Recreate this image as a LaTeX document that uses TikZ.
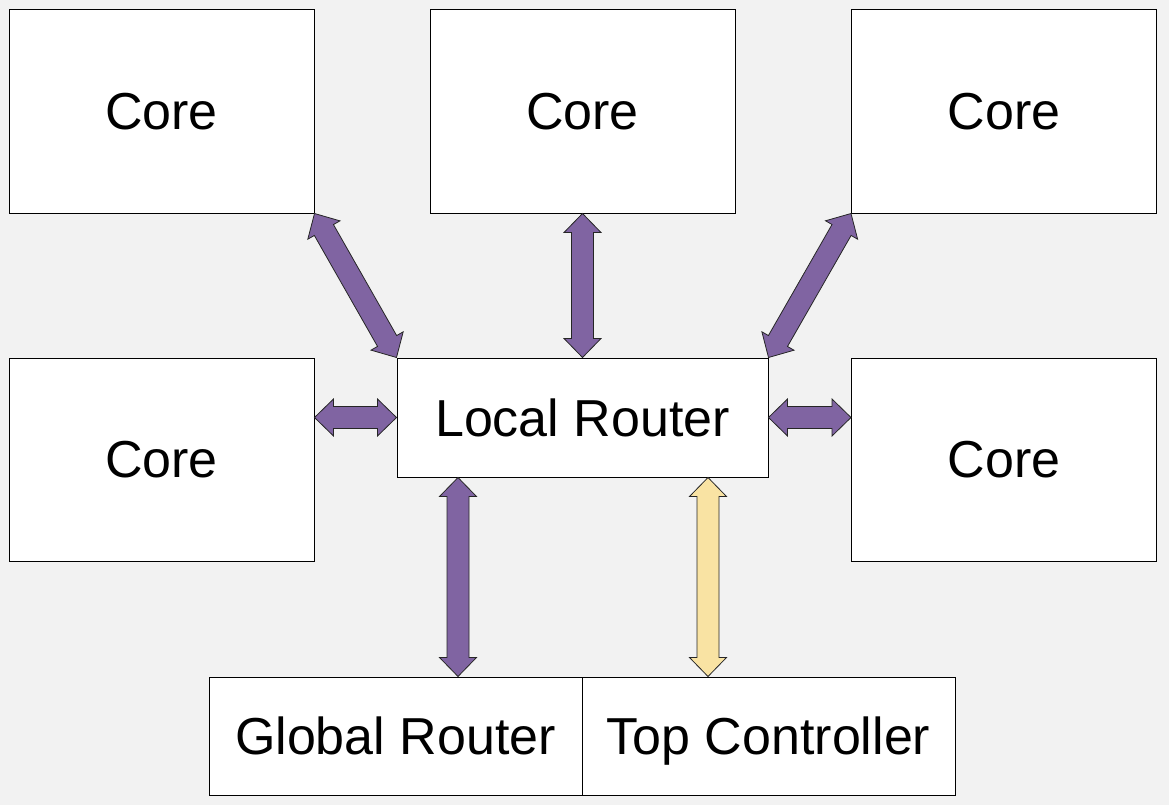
\documentclass[tikz,border=0pt]{standalone}
\usepackage{fontspec}
\setmainfont{Liberation Sans}
\usetikzlibrary{calc}
\definecolor{bg}{HTML}{F2F2F2}
\definecolor{purp}{HTML}{8064A2}
\definecolor{yel}{HTML}{F9E3A3}
\newcommand\hl{19pt}
\newcommand\hw{18.5pt}
\newcommand\sw{11pt}
\newcommand\dblarrow[3]{%
\draw[#3] (#1)
 -- ($(#1)!\hl!(#2)!\hw!90:(#2)$)
 -- ($(#1)!\hl!(#2)!\sw!90:(#2)$)
 -- ($(#2)!\hl!(#1)!\sw!-90:(#1)$)
 -- ($(#2)!\hl!(#1)!\hw!-90:(#1)$)
 -- (#2)
 -- ($(#2)!\hl!(#1)!\hw!90:(#1)$)
 -- ($(#2)!\hl!(#1)!\sw!90:(#1)$)
 -- ($(#1)!\hl!(#2)!\sw!-90:(#2)$)
 -- ($(#1)!\hl!(#2)!\hw!-90:(#2)$)
 -- cycle;}
\begin{document}
\begin{tikzpicture}[x=1pt,y=-1pt,
  box/.style={draw=black, fill=white, line width=1pt, rectangle, inner sep=0pt,
    font=\fontsize{52}{60}\selectfont, text depth=0pt},
  core/.style={box, minimum width=305pt, minimum height=203pt},
  purparrow/.style={fill=purp, draw=black!85, line width=0.8pt, line join=miter},
  yelarrow/.style={fill=yel, draw=black!85, line width=0.8pt, line join=miter}]
\fill[bg] (0,0) rectangle (1169,805);
\useasboundingbox (0,0) rectangle (1169,805);
\node[core] (c1) at (161.5,111.5) {Core};
\node[core] (c2) at (582.5,111.5) {Core};
\node[core] (c3) at (1004,111.5) {Core};
\node[core] (c4) at (161.5,459.5) {Core};
\node[core] (c5) at (1004,459.5) {Core};
\node[box, minimum width=371pt, minimum height=119pt] (lr) at (582.5,417.5) {Local Router};
\node[box, minimum width=373pt, minimum height=118pt] (gr) at (395.5,736) {Global Router};
\node[box, minimum width=373pt, minimum height=118pt] (tc) at (768.5,736) {Top Controller};
\coordinate (lrl) at ($(lr.south west)+(61.5,0)$);
\coordinate (grt) at (lrl |- gr.north);
\coordinate (lrr) at ($(lr.south east)+(-60.5,0)$);
\coordinate (tct) at (lrr |- tc.north);
\coordinate (c4r) at (c4.east |- lr.center);
\coordinate (c5l) at (c5.west |- lr.center);
\dblarrow{c1.south east}{lr.north west}{purparrow}
\dblarrow{c2.south}{lr.north}{purparrow}
\dblarrow{c3.south west}{lr.north east}{purparrow}
\dblarrow{c4r}{lr.west}{purparrow}
\dblarrow{lr.east}{c5l}{purparrow}
\dblarrow{lrl}{grt}{purparrow}
\dblarrow{lrr}{tct}{yelarrow}
\end{tikzpicture}
\end{document}
